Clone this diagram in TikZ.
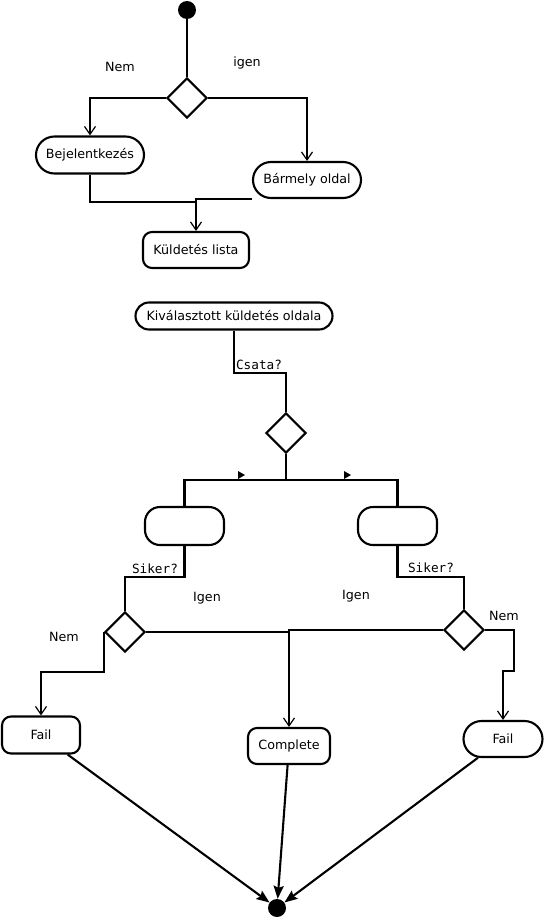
\documentclass[tikz,border=0pt]{standalone}
\usepackage{fontspec}
\setmainfont{DejaVu Sans}
\setmonofont{DejaVu Sans Mono}
\usepackage{tikz}
\usetikzlibrary{positioning,arrows.meta,shapes.geometric,shapes.misc}

\begin{document}
\begin{tikzpicture}[
            x=1pt, y=-1pt,
            font=\fontsize{12.7}{15}\selectfont,
            pill/.style={rounded rectangle, draw=black, line width=2.1pt, inner sep=0pt},
            action/.style={rectangle, rounded corners=9pt, draw=black, line width=2.1pt, inner sep=0pt},
            decision/.style={diamond, draw=black, line width=2.1pt, fill=white, inner sep=0pt, minimum width=40pt, minimum height=40pt},
            dot/.style={circle, fill=black, inner sep=0pt, minimum size=18pt},
            flow/.style={line width=2.1pt, draw=black},
            open/.style={-{Straight Barb[length=8pt,width=11pt,line width=1.2pt]}},
            final/.style={-{Stealth[length=13pt,width=10pt,inset=2pt]}},
            guard/.style={font=\ttfamily\fontsize{12.7}{15}\selectfont}
        ]
        \useasboundingbox (0,0) rectangle (545,921);
        
        % Start and first choice
        \node[dot] (start) at (187,10) {};
        \node[decision] (d1) at (187,98) {};
        \node[pill, minimum width=108pt, minimum height=37pt] (login) at (90,155) {Bejelentkezés};
        \node[pill, minimum width=108pt, minimum height=36pt] (any) at (307,180) {Bármely oldal};
        \node[action, minimum width=106pt, minimum height=36pt] (list) at (196,250) {Küldetés lista};
        \node at (120,67) {Nem};
        \node at (247,63) {igen};
        
        \draw[flow] (start) -- (d1.north);
        \draw[flow,open] (d1.west) -| (login.north);
        \draw[flow,open] (d1.east) -| (any.north);
        \coordinate (join) at (196,202);
        \draw[flow] (login.south) |- (join);
        \draw[flow,open] (any.south -| any.west) -| (list.north);
        
        % Selected mission
        \node[pill, minimum width=197pt, minimum height=27pt] (sel) at (234,316) {Kiválasztott küldetés oldala};
        \node[decision] (d2) at (286,433) {};
        \coordinate (bend) at (286,373);
        \coordinate (fork) at (286,480);
        \node[guard] at (259,365) {Csata?};
        \draw[flow] (sel.south) |- (bend) -- (d2.north);
        \draw[flow] (d2.south) -- (fork);
        
        % Two empty actions
        \node[action, rounded corners=15pt, minimum width=79pt, minimum height=38pt] (taskL) at (184.5,526) {};
        \node[action, rounded corners=15pt, minimum width=79pt, minimum height=38pt] (taskR) at (397.5,526) {};
        \draw[flow] (fork) -| (taskL.north);
        \draw[flow] (fork) -| (taskR.north);
        \fill (238,471) -- (245,475) -- (238,479) -- cycle;
        \fill (344,471) -- (351,475) -- (344,479) -- cycle;
        
        % Success checks
        \node[decision] (dL) at (125,632) {};
        \node[decision] (dR) at (464,630) {};
        \coordinate (sikL) at (125,577);
        \coordinate (sikR) at (464,577);
        \draw[flow] (taskL.south) |- (sikL) -- (dL.north);
        \draw[flow] (taskR.south) |- (sikR) -- (dR.north);
        \node[guard] at (155,569) {Siker?};
        \node[guard] at (431,568) {Siker?};
        \node at (207,598) {Igen};
        \node at (356,596) {Igen};
        \node at (64,637) {Nem};
        \node at (504,616) {Nem};
        
        % Outcomes
        \node[action, minimum width=78pt, minimum height=37pt] (failL) at (41,735) {Fail};
        \node[action, minimum width=82pt, minimum height=36pt] (complete) at (289,746) {Complete};
        \node[pill, minimum width=79pt, minimum height=36pt] (failR) at (503,739) {Fail};
        \coordinate (nemL) at (105,672);
        \coordinate (nemR) at (514,671);
        \draw[flow,open] (dL.west) -- (dL.west |- nemL) -| (failL.north);
        \draw[flow] (dL.east) -- (dL.east -| complete.north);
        \draw[flow,open] (dR.west) -| (complete.north);
        \draw[flow,open] (dR.east) -| (nemR) -| (failR.north);
        
        % End
        \node[dot] (end) at (277,908) {};
        \draw[flow,final] (failL) -- (end);
        \draw[flow,final] (complete) -- (end);
        \draw[flow,final] (failR) -- (end);
        
        \end{tikzpicture}
\end{document}
